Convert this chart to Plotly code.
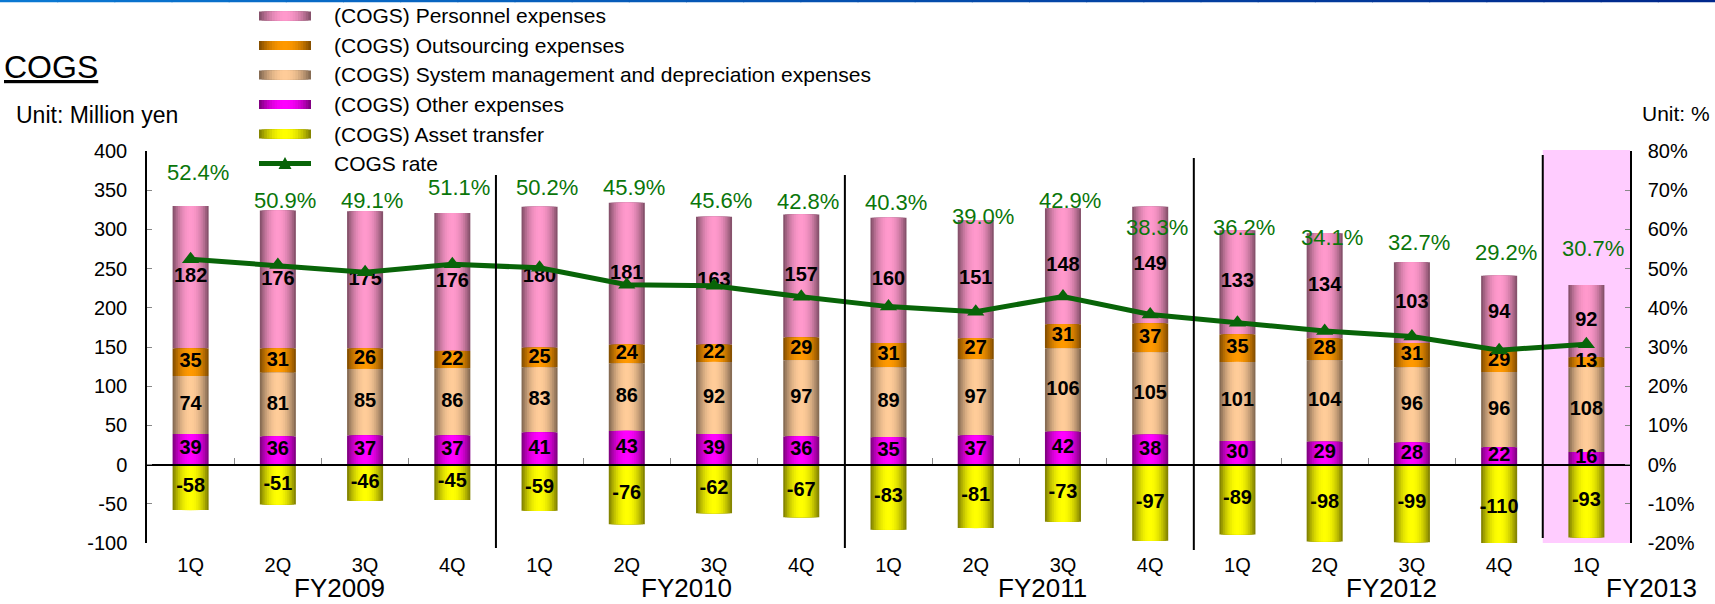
import plotly.graph_objects as go

# ---------------- data ----------------
fiscal_years = ["FY2009"] * 4 + ["FY2010"] * 4 + ["FY2011"] * 4 + ["FY2012"] * 4 + ["FY2013"]
quarters = ["1Q", "2Q", "3Q", "4Q"] * 4 + ["1Q"]
personnel = [182, 176, 175, 176, 180, 181, 163, 157, 160, 151, 148, 149, 133, 134, 103, 94, 92]
outsourcing = [35, 31, 26, 22, 25, 24, 22, 29, 31, 27, 31, 37, 35, 28, 31, 29, 13]
system_mgmt = [74, 81, 85, 86, 83, 86, 92, 97, 89, 97, 106, 105, 101, 104, 96, 96, 108]
other_exp = [39, 36, 37, 37, 41, 43, 39, 36, 35, 37, 42, 38, 30, 29, 28, 22, 16]
asset_transfer = [-58, -51, -46, -45, -59, -76, -62, -67, -83, -81, -73, -97, -89, -98, -99, -110, -93]
cogs_rate = [52.4, 50.9, 49.1, 51.1, 50.2, 45.9, 45.6, 42.8, 40.3, 39.0, 42.9, 38.3, 36.2, 34.1, 32.7, 29.2, 30.7]
fy_groups = ["FY2009", "FY2010", "FY2011", "FY2012", "FY2013"]
left_ticks = [-100, -50, 0, 50, 100, 150, 200, 250, 300, 350, 400]
right_ticks = [-20, -10, 0, 10, 20, 30, 40, 50, 60, 70, 80]

# label placement (layout only, left-axis units / category positions)
rate_label_pos = [373, 337, 337, 353, 353, 353, 337, 335, 334, 316, 337, 303, 303, 290, 283, 270, 276]
fy_label_pos = [1.71, 5.68, 9.76, 13.77, 16.75]

FONT = "Arial, Liberation Sans, sans-serif"
GREEN_LINE = "#086408"
GREEN_TEXT = "#0a760a"

cats = [f"{fy} {q}" for fy, q in zip(fiscal_years, quarters)]
NC = len(cats)

base_system = other_exp
base_out = [a + b for a, b in zip(other_exp, system_mgmt)]
base_pers = [a + b + c for a, b, c in zip(other_exp, system_mgmt, outsourcing)]
zeros = [0] * NC

series = [
    ("(COGS) Personnel expenses", personnel, base_pers, (255, 153, 204), (122, 74, 98)),
    ("(COGS) Outsourcing expenses", outsourcing, base_out, (255, 153, 0), (122, 72, 0)),
    ("(COGS) System management and depreciation expenses", system_mgmt, base_system, (255, 204, 153), (122, 98, 76)),
    ("(COGS) Other expenses", other_exp, zeros, (255, 0, 255), (118, 0, 118)),
    ("(COGS) Asset transfer", asset_transfer, zeros, (255, 255, 0), (120, 120, 0)),
]


def mix(c1, c2, a):
    return "rgb(%d,%d,%d)" % tuple(round(c1[i] + (c2[i] - c1[i]) * a) for i in range(3))


N = 10
W = 0.413
fig = go.Figure()

for name, vals, base, cc, ec in series:
    for k in range(N):
        t = 1 - (k + 0.5) / N
        fig.add_trace(go.Bar(
            x=cats, y=vals, base=base, width=W * (1 - k / N),
            marker=dict(color=mix(cc, ec, t ** 2), line=dict(width=0)),
            showlegend=False, hoverinfo="skip", name=name,
        ))

# value labels inside segments
lx, ly, lt = [], [], []
for name, vals, base, cc, ec in series:
    for c, v, b in zip(cats, vals, base):
        lx.append(c)
        ly.append(b + v / 2)
        lt.append(str(v))
fig.add_trace(go.Scatter(
    x=lx, y=ly, text=lt, mode="text", textposition="middle center",
    textfont=dict(family=FONT, size=20, color="black", weight="bold"),
    showlegend=False, hoverinfo="skip", cliponaxis=False,
))

# COGS rate line
fig.add_trace(go.Scatter(
    x=cats, y=cogs_rate, yaxis="y2", mode="lines+markers", name="COGS rate",
    line=dict(color=GREEN_LINE, width=5),
    marker=dict(symbol="triangle-up", size=15, color=GREEN_LINE),
    showlegend=False, hoverinfo="skip",
))

# ---------------- layout helpers ----------------
L, R, T, B = 147, 1630, 151, 543


def px(X):
    return (X - L) / (R - L)


def py(Y):
    return (B - Y) / (B - T)


shapes = []
annotations = []

# top blue rule
SEG = 30
for i in range(SEG):
    a = i / (SEG - 1)
    shapes.append(dict(type="rect", xref="paper", yref="paper",
                       x0=px(1715 * i / SEG), x1=px(1715 * (i + 1) / SEG + 1),
                       y0=py(0), y1=py(2.2), line=dict(width=0),
                       fillcolor=mix((10, 120, 210), (0, 40, 140), a)))

# highlight for latest quarter
shapes.append(dict(type="rect", xref="x2", yref="paper", x0=15.5, x1=16.5,
                   y0=py(543), y1=py(150), fillcolor="#ffccff",
                   line=dict(width=0), layer="below"))

# fiscal-year dividers
div_x = [3.5, 7.5, 11.5, 15.5]
div_top = [175, 175, 158, 155]
div_bot = [548, 548, 550, 538]
for dx, dt, db in zip(div_x, div_top, div_bot):
    shapes.append(dict(type="line", xref="x2", yref="paper", x0=dx, x1=dx,
                       y0=py(db), y1=py(dt), line=dict(color="black", width=2)))

# custom legend
rows = [16, 45.5, 75, 104.5, 134, 163.5]
SX0, SX1 = 259, 311
SC = (SX0 + SX1) / 2
for (name, vals, base, cc, ec), Y in zip(series, rows):
    for k in range(N):
        t = 1 - (k + 0.5) / N
        hw = (SX1 - SX0) / 2 * (1 - k / N)
        shapes.append(dict(type="rect", xref="paper", yref="paper",
                           x0=px(SC - hw), x1=px(SC + hw), y0=py(Y + 4.5), y1=py(Y - 4.5),
                           fillcolor=mix(cc, ec, t ** 2), line=dict(width=0)))
    annotations.append(dict(text=name, xref="paper", yref="paper", x=px(332), y=py(Y),
                            xanchor="left", yanchor="middle", showarrow=False,
                            font=dict(family=FONT, size=21, color="black")))
Yl = rows[-1]
shapes.append(dict(type="line", xref="paper", yref="paper", x0=px(SX0), x1=px(SX1),
                   y0=py(Yl), y1=py(Yl), line=dict(color=GREEN_LINE, width=5)))
shapes.append(dict(type="path", xref="paper", yref="paper",
                   path="M%f,%f L%f,%f L%f,%f Z" % (px(SC - 6.5), py(Yl + 5.5), px(SC + 6.5), py(Yl + 5.5), px(SC), py(Yl - 6.5)),
                   fillcolor=GREEN_LINE, line=dict(width=0)))
annotations.append(dict(text="COGS rate", xref="paper", yref="paper", x=px(332), y=py(Yl),
                        xanchor="left", yanchor="middle", showarrow=False,
                        font=dict(family=FONT, size=21, color="black")))

# titles / units
annotations.append(dict(text="<u>COGS</u>", xref="paper", yref="paper", x=px(2), y=py(67),
                        xanchor="left", yanchor="middle", showarrow=False,
                        font=dict(family=FONT, size=32, color="black")))
annotations.append(dict(text="Unit: Million yen", xref="paper", yref="paper", x=px(14), y=py(115),
                        xanchor="left", yanchor="middle", showarrow=False,
                        font=dict(family=FONT, size=23, color="black")))
annotations.append(dict(text="Unit: %", xref="paper", yref="paper", x=px(1640), y=py(113),
                        xanchor="left", yanchor="middle", showarrow=False,
                        font=dict(family=FONT, size=21, color="black")))

# COGS rate labels
for c, r, p in zip(cats, cogs_rate, rate_label_pos):
    annotations.append(dict(text=f"{r:.1f}%", x=c, y=p, xref="x", yref="y",
                            xanchor="center", yanchor="middle", showarrow=False, xshift=7,
                            font=dict(family=FONT, size=22, color=GREEN_TEXT)))

# fiscal year labels (category position -> paper fraction)
for fy, pos in zip(fy_groups, fy_label_pos):
    annotations.append(dict(text=fy, x=(pos + 0.5) / NC, y=py(588), xref="paper", yref="paper",
                            xanchor="center", yanchor="middle", showarrow=False,
                            font=dict(family=FONT, size=26, color="black")))

fig.update_layout(
    width=1715, height=604,
    margin=dict(l=L, r=1715 - R, t=T, b=604 - B, pad=0),
    paper_bgcolor="white", plot_bgcolor="rgba(0,0,0,0)",
    barmode="overlay", showlegend=False,
    font=dict(family=FONT, size=20, color="black"),
    xaxis=dict(type="category", categoryorder="array", categoryarray=cats,
               tickvals=cats, ticktext=quarters, range=[-0.5, 16.5],
               showline=False, showgrid=False, zeroline=False, ticks="",
               ticklabelstandoff=8, tickfont=dict(family=FONT, size=20)),
    xaxis2=dict(overlaying="x", anchor="free", position=0.2, side="bottom",
                range=[-0.5, 16.5], tickvals=[i + 0.5 for i in range(16)],
                ticks="inside", ticklen=6, tickcolor="#888888", tickwidth=1,
                showticklabels=False, showline=True, linecolor="black", linewidth=1.5,
                showgrid=False, zeroline=False),
    yaxis=dict(range=[-100, 400], tickvals=left_ticks, ticktext=[str(v) for v in left_ticks],
               showline=True, linecolor="black", linewidth=1.5, ticks="inside", ticklen=5,
               tickcolor="#888888", showgrid=False, zeroline=False,
               ticklabelstandoff=14, tickfont=dict(family=FONT, size=20)),
    yaxis2=dict(range=[-20, 80], overlaying="y", side="right",
                tickvals=right_ticks, ticktext=[f"{v}%" for v in right_ticks],
                showline=True, linecolor="black", linewidth=1.5, ticks="inside", ticklen=5,
                tickcolor="#888888", showgrid=False, zeroline=False,
                ticklabelstandoff=12, tickfont=dict(family=FONT, size=20)),
    shapes=shapes, annotations=annotations,
)

fig.write_html("out.html")
